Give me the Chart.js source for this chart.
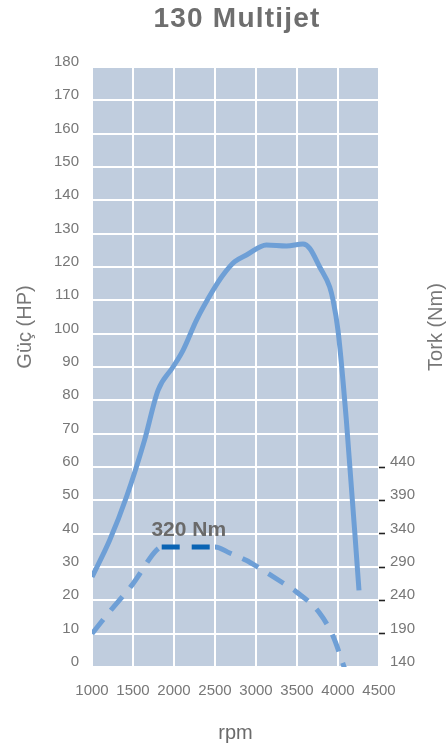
<!DOCTYPE html>
<html>
<head>
<meta charset="utf-8">
<script src="https://cdn.jsdelivr.net/npm/chart.js@4/dist/chart.umd.min.js"></script>
<style>
  html, body { margin: 0; padding: 0; background: #fff; }
  #wrap { width: 448px; height: 751px; position: relative; }
</style>
</head>
<body>
<div id="wrap"><canvas id="engineChart"></canvas></div>
<script>
// Güç eğrisi (HP) - rpm
const powerRpm = [1000, 1215, 1420, 1640, 1805, 1988, 2110, 2273, 2476, 2598, 2740, 2883, 3127, 3371, 3573, 3655, 3777, 3899, 3940, 4000, 4102, 4256];
const powerHP  = [27, 38, 51, 68, 83, 90, 95, 104, 113, 117.6, 121.6, 123.6, 126.6, 126.3, 126.9, 125.6, 120, 114, 110, 101, 74, 23];

// Tork eğrisi (Nm) - rpm
const torqueRpm = [1000, 1215, 1500, 1785, 1850, 2500, 2680, 2880, 3045, 3330, 3490, 3775, 3940, 4080];
const torqueNm  = [190, 223, 265, 315, 320, 320, 311, 300, 288, 266, 253, 221, 186, 138];

const rpmTicks = [1000, 1500, 2000, 2500, 3000, 3500, 4000, 4500];
const hpRange = [0, 180];
const nmRange = [140, 1040];
const nmLabelMax = 440;
const peakTorque = 320;

const lightBlue = '#6e9fd6';
const darkBlue = '#0a64b4';
const grey = '#777777';

const chartBg = {
    id: 'chartBg',
    beforeDraw(chart) {
        const a = chart.chartArea;
        const ctx = chart.ctx;
        ctx.save();
        ctx.fillStyle = '#c0cdde';
        ctx.fillRect(a.left, a.top, a.right - a.left, a.bottom - a.top);
        ctx.restore();
    },
    afterDraw(chart) {
        const ctx = chart.ctx;
        const x = chart.scales.x, y2 = chart.scales.y2;
        ctx.save();
        // başlık
        ctx.fillStyle = '#6e6e6e';
        ctx.font = 'bold 28px "Liberation Sans", Arial, sans-serif';
        ctx.letterSpacing = '1.2px';
        ctx.textAlign = 'center';
        ctx.textBaseline = 'alphabetic';
        ctx.fillText('130 Multijet', 237, 27);
        ctx.letterSpacing = '0px';
        // tepe tork etiketi
        ctx.font = 'bold 21px "Liberation Sans", Arial, sans-serif';
        ctx.fillStyle = '#6a6a6a';
        ctx.fillText(peakTorque + ' Nm', x.getPixelForValue(2180), y2.getPixelForValue(peakTorque) - 11);
        // eksen başlıkları
        ctx.font = '20px "Liberation Sans", Arial, sans-serif';
        ctx.fillStyle = grey;
        ctx.textBaseline = 'middle';
        ctx.translate(25, 327);
        ctx.rotate(-Math.PI / 2);
        ctx.fillText('Güç (HP)', 0, 0);
        ctx.restore();
        ctx.save();
        ctx.font = '20px "Liberation Sans", Arial, sans-serif';
        ctx.fillStyle = grey;
        ctx.textAlign = 'center';
        ctx.textBaseline = 'middle';
        ctx.translate(436, 327);
        ctx.rotate(-Math.PI / 2);
        ctx.fillText('Tork (Nm)', 0, 0);
        ctx.restore();
    }
};

function noPad(scale) {
    scale.paddingTop = 0;
    scale.paddingBottom = 0;
    scale.paddingLeft = 0;
    scale.paddingRight = 0;
}

const tickFont = { family: '"Liberation Sans", Arial, sans-serif', size: 15 };

new Chart(document.getElementById('engineChart'), {
    type: 'line',
    data: {
        datasets: [
            {
                label: 'Güç (HP)',
                data: powerRpm.map((r, i) => ({ x: r, y: powerHP[i] })),
                yAxisID: 'y',
                borderColor: lightBlue,
                borderWidth: 5,
                pointRadius: 0,
                cubicInterpolationMode: 'monotone',
                borderCapStyle: 'butt'
            },
            {
                label: 'Tork (Nm)',
                data: torqueRpm.map((r, i) => ({ x: r, y: torqueNm[i] })),
                yAxisID: 'y2',
                borderColor: lightBlue,
                borderWidth: 5,
                borderDash: [18, 12],
                pointRadius: 0,
                cubicInterpolationMode: 'monotone',
                segment: {
                    borderColor: c => (c.p0.parsed.y === peakTorque && c.p1.parsed.y === peakTorque) ? darkBlue : undefined
                }
            }
        ]
    },
    options: {
        responsive: true,
        maintainAspectRatio: false,
        animation: false,
        layout: { padding: { top: 67, left: 0, right: 0, bottom: 0 } },
        plugins: {
            legend: { display: false },
            tooltip: { enabled: false },
            title: { display: false }
        },
        scales: {
            x: {
                type: 'linear',
                min: rpmTicks[0],
                max: rpmTicks[rpmTicks.length - 1],
                afterBuildTicks: s => { s.ticks = rpmTicks.map(v => ({ value: v })); },
                afterFit: s => { noPad(s); s.height = 84; },
                grid: { color: '#ffffff', lineWidth: 2, drawTicks: false },
                border: { display: false },
                ticks: { color: grey, font: tickFont, padding: 15, maxRotation: 0, autoSkip: false, callback: v => String(v) },
                title: {
                    display: true,
                    text: 'rpm',
                    color: '#6a6a6a',
                    font: { family: '"Liberation Sans", Arial, sans-serif', size: 20 },
                    padding: { top: 0, bottom: 6 }
                }
            },
            y: {
                position: 'left',
                min: hpRange[0],
                max: hpRange[1],
                afterFit: s => { noPad(s); s.width = 92; },
                grid: { color: '#ffffff', lineWidth: 2, drawTicks: false },
                border: { display: false },
                ticks: { stepSize: 10, color: grey, font: tickFont, padding: 13, labelOffset: -5 }
            },
            y2: {
                position: 'right',
                min: nmRange[0],
                max: nmRange[1],
                afterFit: s => { noPad(s); s.width = 69; },
                grid: {
                    drawOnChartArea: false,
                    drawTicks: true,
                    tickLength: 6,
                    tickWidth: 1.6,
                    tickColor: c => (c.tick && c.tick.value > nmRange[0] && c.tick.value <= nmLabelMax) ? '#222222' : 'rgba(0,0,0,0)'
                },
                border: { display: false },
                ticks: {
                    stepSize: 50,
                    color: grey,
                    font: tickFont,
                    padding: 5,
                    labelOffset: -5,
                    callback: v => v <= nmLabelMax ? String(v) : ''
                }
            }
        }
    },
    plugins: [chartBg]
});
</script>
</body>
</html>
